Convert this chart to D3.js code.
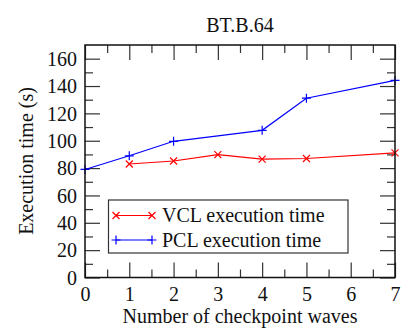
<!DOCTYPE html>
<html>
<head>
<meta charset="utf-8">
<script src="https://cdn.jsdelivr.net/npm/d3@7"></script>
<style>
  html, body { margin: 0; padding: 0; background: #fff; }
</style>
</head>
<body>
<svg id="chart" width="414" height="335"></svg>
<script>
// Checkpoint waves on the x axis
const waves = [0, 1, 2, 3, 4, 5, 6, 7];
// Execution time (s) per protocol
const vclWaves = [1, 2, 3, 4, 5, 7];
const vclTimes = [83, 85.2, 89.8, 86.5, 87, 91.1];
const pclWaves = [0, 1, 2, 4, 5, 7];
const pclTimes = [79, 89, 99.6, 107.6, 131.1, 144.1];
const yTickValues = [0, 20, 40, 60, 80, 100, 120, 140, 160];
const seriesNames = ["VCL execution time", "PCL execution time"];

const FONT = "'Liberation Serif', 'Times New Roman', Times, 'DejaVu Serif', serif";

const svg = d3.select("#chart");
const m = { left: 85, right: 395, top: 45, bottom: 277.5 };

const x = d3.scaleLinear().domain([0, 7]).range([m.left, m.right]);
const y = d3.scaleLinear().domain([0, 170]).range([m.bottom, m.top]);

const majorLen = 15, minorLen = 8;
const xMinor = d3.range(0.5, 7, 1);
const yMinor = d3.range(10, 170, 20);

// Tick marks on all four sides
function ticks(axisFn, values, len, pos) {
  const g = svg.append("g").attr("transform", pos);
  g.call(axisFn.tickValues(values).tickSize(len).tickFormat(""));
  g.select(".domain").remove();
  g.selectAll(".tick line").attr("stroke", "#333").attr("stroke-width", 1.2);
  return g;
}
ticks(d3.axisTop(x), waves, majorLen, `translate(0,${m.bottom})`);
ticks(d3.axisTop(x), xMinor, minorLen, `translate(0,${m.bottom})`);
ticks(d3.axisBottom(x), waves, majorLen, `translate(0,${m.top})`);
ticks(d3.axisBottom(x), xMinor, minorLen, `translate(0,${m.top})`);
ticks(d3.axisRight(y), yTickValues, majorLen, `translate(${m.left},0)`);
ticks(d3.axisRight(y), yMinor, minorLen, `translate(${m.left},0)`);
ticks(d3.axisLeft(y), yTickValues, majorLen, `translate(${m.right},0)`);
ticks(d3.axisLeft(y), yMinor, minorLen, `translate(${m.right},0)`);

// Tick labels
const xl = svg.append("g").attr("transform", `translate(0,${m.bottom})`)
  .call(d3.axisBottom(x).tickValues(waves).tickSize(0).tickPadding(0).tickFormat(d3.format("d")));
xl.select(".domain").remove();
xl.selectAll("text").attr("dy", null).attr("y", 23.5);

const yl = svg.append("g").attr("transform", `translate(${m.left},0)`)
  .call(d3.axisLeft(y).tickValues(yTickValues).tickSize(0).tickPadding(8).tickFormat(d3.format("d")));
yl.select(".domain").remove();
yl.selectAll("text").attr("dy", "0.34em");

// Series lines
const line = d3.line().x(d => x(d[0])).y(d => y(d[1]));
const vcl = vclWaves.map((w, i) => [w, vclTimes[i]]);
const pcl = pclWaves.map((w, i) => [w, pclTimes[i]]);

function drawSeries(data, color, marker) {
  svg.append("path").datum(data).attr("d", line)
    .attr("fill", "none").attr("stroke", color).attr("stroke-width", 1.2);
  svg.append("g").selectAll("path").data(data).join("path")
    .attr("transform", d => `translate(${x(d[0])},${y(d[1])})`)
    .attr("d", marker)
    .attr("stroke", color).attr("stroke-width", 1.2).attr("fill", "none");
}
const crossMark = "M-3.5,-3.5L3.5,3.5M-3.5,3.5L3.5,-3.5";
const plusMark = "M-4.5,0L4.5,0M0,-4.5L0,4.5";
drawSeries(vcl, "#ff0000", crossMark);
drawSeries(pcl, "#0000ff", plusMark);

// Plot frame
svg.append("rect")
  .attr("x", m.left).attr("y", m.top)
  .attr("width", m.right - m.left).attr("height", m.bottom - m.top)
  .attr("fill", "none").attr("stroke", "#111").attr("stroke-width", 1.5);

// Legend
const lg = svg.append("g");
lg.append("rect").attr("x", 108.5).attr("y", 200).attr("width", 239.5).attr("height", 53)
  .attr("fill", "#fff").attr("stroke", "#333").attr("stroke-width", 1.2);
const legendItems = [
  { name: seriesNames[0], color: "#ff0000", marker: crossMark, yy: 215.5 },
  { name: seriesNames[1], color: "#0000ff", marker: plusMark, yy: 240 }
];
legendItems.forEach(it => {
  lg.append("line").attr("x1", 116).attr("x2", 152).attr("y1", it.yy).attr("y2", it.yy)
    .attr("stroke", it.color).attr("stroke-width", 1.2);
  [116, 152].forEach(px => lg.append("path")
    .attr("transform", `translate(${px},${it.yy})`).attr("d", it.marker)
    .attr("stroke", it.color).attr("stroke-width", 1.2).attr("fill", "none"));
  lg.append("text").attr("x", 162).attr("y", it.yy).attr("dy", "0.34em").text(it.name);
});

// Title and axis titles
svg.append("text").attr("x", 240).attr("y", 32).attr("text-anchor", "middle").text("BT.B.64");
svg.append("text").attr("x", 240).attr("y", 323).attr("text-anchor", "middle")
  .text("Number of checkpoint waves");
svg.append("text").attr("transform", `translate(33,161) rotate(-90)`)
  .attr("text-anchor", "middle").text("Execution time (s)");

// Shared text styling
svg.selectAll("text")
  .style("font-family", FONT)
  .style("font-size", "20px")
  .style("fill", "#111");
</script>
</body>
</html>
